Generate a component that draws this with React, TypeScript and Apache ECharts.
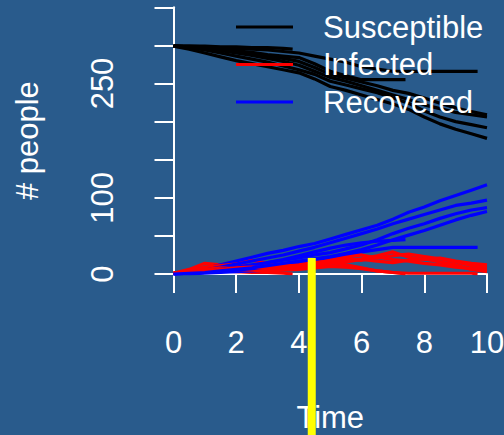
import { useEffect, useRef } from "react";
import * as echarts from "echarts";

// Simulation time grid (each run's last value sits at its end time)
const times = [0, 0.5, 1, 1.5, 2, 2.5, 3, 3.5, 4, 4.5, 5, 5.5, 6, 6.5, 7, 7.5, 8, 8.5, 9, 9.5, 10];
const runEnds = [3.8, 7.4, 9.7, 10, 10, 10, 10];

const susceptibleRuns = [
  [299, 299, 299, 298, 298, 297, 297, 296, 295],
  [299, 298, 297, 295, 293, 291, 288, 286, 284, 276, 266, 260, 255, 255, 255, 255],
  [299, 299, 298, 297, 296, 295, 294, 292, 290, 286, 282, 278, 272, 269, 266, 266, 266, 266, 266, 266, 266],
  [299, 295, 290, 285, 280, 276, 272, 268, 264, 256, 246, 241, 235, 229, 223, 216, 206, 197, 190, 184, 178],
  [299, 297, 294, 290, 286, 282, 278, 273, 268, 262, 253, 248, 243, 238, 231, 224, 214, 206, 200, 196, 192],
  [299, 298, 296, 293, 290, 287, 283, 279, 274, 266, 258, 253, 247, 241, 235, 229, 222, 217, 212, 209, 206],
  [299, 298, 297, 295, 292, 289, 286, 283, 279, 271, 262, 257, 252, 247, 241, 237, 231, 224, 218, 213, 209],
];

const infectedRuns = [
  [1, 3, 5, 4, 3, 2, 2, 1, 0],
  [1, 4, 8, 10, 12, 11, 9, 10, 12, 14, 15, 12, 8, 4, 2, 0],
  [1, 2, 3, 5, 6, 5, 4, 5, 6, 8, 10, 9, 7, 4, 2, 1, 1, 1, 1, 1, 0],
  [1, 6, 14, 12, 16, 18, 14, 12, 10, 13, 15, 18, 20, 24, 29, 22, 19, 21, 17, 14, 12],
  [1, 4, 9, 11, 13, 10, 8, 9, 11, 14, 18, 22, 25, 21, 24, 26, 23, 20, 16, 11, 8],
  [1, 3, 6, 8, 7, 9, 11, 10, 12, 15, 17, 20, 18, 22, 19, 17, 14, 12, 9, 7, 5],
  [1, 2, 4, 6, 8, 9, 7, 8, 9, 11, 14, 16, 19, 17, 15, 18, 20, 16, 12, 6, 3],
];

const recoveredRuns = [
  [0, 0, 1, 2, 3, 4, 5, 6, 6],
  [0, 1, 3, 5, 8, 11, 15, 19, 24, 29, 34, 38, 41, 43, 44, 45],
  [0, 1, 2, 3, 5, 7, 9, 11, 14, 17, 21, 25, 29, 32, 35, 35, 35, 35, 35, 35, 35],
  [0, 3, 7, 12, 17, 22, 27, 31, 36, 40, 46, 52, 58, 64, 72, 81, 88, 96, 103, 110, 117],
  [0, 2, 5, 9, 13, 17, 21, 25, 30, 35, 41, 47, 53, 59, 66, 72, 78, 84, 90, 93, 97],
  [0, 1, 3, 6, 9, 12, 15, 18, 21, 25, 28, 33, 38, 45, 53, 60, 66, 73, 79, 84, 87],
  [0, 1, 2, 4, 6, 8, 11, 14, 17, 20, 23, 27, 32, 38, 45, 51, 57, 64, 71, 77, 82],
];

const seriesNames = ["Susceptible", "Infected", "Recovered"];
const seriesColors = ["#000000", "#ff0000", "#0000ff"];
const yTickLabels = [0, 100, 250];
const yellowMarker = { time: 4.41, value: 21 };

const FONT = "'Liberation Sans', Arial, Helvetica, sans-serif";
const WHITE = "#ffffff";

export default function App() {
  const ref = useRef<HTMLDivElement>(null);

  useEffect(() => {
    const chart = echarts.init(ref.current!, null, { renderer: "svg" });
    const toPoints = (vals: number[], end: number) =>
      vals.map((v, i) => [i === vals.length - 1 ? end : times[i], v]);

    const series: any[] = [];
    for (let r = 0; r < runEnds.length; r++) {
      [susceptibleRuns, infectedRuns, recoveredRuns].forEach((runs, k) => {
        series.push({
          type: "line",
          name: seriesNames[k],
          data: toPoints(runs[r], runEnds[r]),
          symbol: "none",
          showSymbol: false,
          silent: true,
          lineStyle: { color: seriesColors[k], width: 3.2 },
          itemStyle: { color: seriesColors[k] },
        });
      });
    }

    chart.setOption({
      animation: false,
      backgroundColor: "#295b8c",
      textStyle: { fontFamily: FONT },
      grid: { left: 173.5, right: 17, top: 7.3, bottom: 161, containLabel: false, outerBoundsMode: "none" },
      legend: {
        data: seriesNames,
        orient: "vertical",
        left: 236,
        top: 11.5,
        padding: 0,
        itemWidth: 57,
        itemHeight: 3,
        itemGap: 6.5,
        icon: "rect",
        selectedMode: false,
        textStyle: { color: WHITE, fontSize: 31, fontFamily: FONT, lineHeight: 31, padding: [0, 0, 0, 25] },
      },
      xAxis: {
        type: "value",
        min: 0,
        max: 10,
        interval: 2,
        offset: 11,
        name: "Time",
        nameLocation: "middle",
        nameGap: 117,
        nameTextStyle: { color: WHITE, fontSize: 31, fontFamily: FONT },
        axisLine: { show: true, lineStyle: { color: WHITE, width: 2 } },
        axisTick: { show: true, length: 19, lineStyle: { color: WHITE, width: 2 } },
        axisLabel: { color: WHITE, fontSize: 31, fontFamily: FONT, margin: 42 },
        splitLine: { show: false },
      },
      yAxis: {
        type: "value",
        min: 0,
        max: 350,
        interval: 50,
        offset: 12.5,
        name: "# people",
        nameLocation: "middle",
        nameRotate: 90,
        nameGap: 118,
        nameTextStyle: { color: WHITE, fontSize: 31, fontFamily: FONT },
        axisLine: { show: true, lineStyle: { color: WHITE, width: 2 } },
        axisTick: { show: true, length: 19, lineStyle: { color: WHITE, width: 2 } },
        axisLabel: {
          color: WHITE,
          fontSize: 31,
          fontFamily: FONT,
          rotate: 90,
          margin: 43,
          formatter: (v: number) => (yTickLabels.includes(v) ? String(v) : ""),
        },
        splitLine: { show: false },
      },
      series,
    });

    const [px, py] = chart.convertToPixel({ xAxisIndex: 0, yAxisIndex: 0 }, [yellowMarker.time, yellowMarker.value]) as number[];
    chart.setOption({
      graphic: [
        {
          type: "line",
          z: 100,
          silent: true,
          shape: { x1: px, y1: py, x2: px, y2: chart.getHeight() },
          style: { stroke: "#ffff00", lineWidth: 8 },
        },
      ],
    });

    return () => chart.dispose();
  }, []);

  return <div ref={ref} style={{ position: "fixed", left: 0, top: 0, width: 504, height: 435 }} />;
}
